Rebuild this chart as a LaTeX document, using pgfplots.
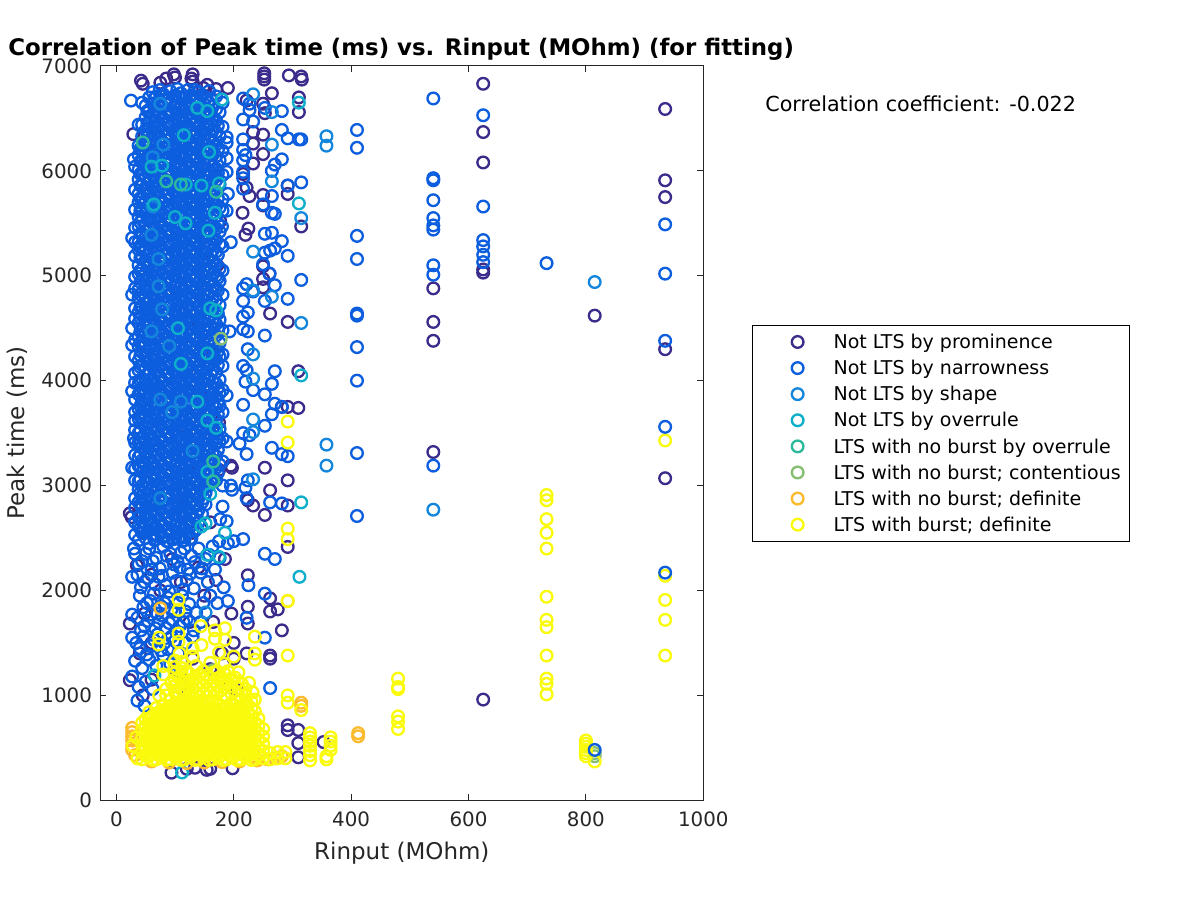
\documentclass[border=0pt]{standalone}
\usepackage{fontspec}
\setmainfont{DejaVu Sans}
\usepackage{pgfplots}
\pgfplotsset{compat=1.18}
\definecolor{c1}{HTML}{3B2C8C}
\definecolor{c2}{HTML}{0C5EDE}
\definecolor{c3}{HTML}{1487DC}
\definecolor{c4}{HTML}{0DAFCB}
\definecolor{c5}{HTML}{2DB99B}
\definecolor{c6}{HTML}{86BE72}
\definecolor{c7}{HTML}{FCBA2E}
\definecolor{c8}{HTML}{F9FA0C}
\pgfplotsset{ring/.style={only marks,mark=o,mark size=3.5pt,line width=1.4pt,color=#1}}
\newcommand{\lab}[1]{\makebox[177.6pt][l]{#1}}
\begin{document}
\begin{tikzpicture}
\path[use as bounding box] (0pt,0pt) rectangle (720pt,540pt);
\begin{axis}[
  at={(60.18pt,59.82pt)},anchor=south west,
  scale only axis,width=361.8pt,height=440.6pt,
  xmin=-27.3,xmax=1000,ymin=0,ymax=7000,
  xtick={0,200,400,600,800,1000},
  ytick={0,1000,2000,3000,4000,5000,6000,7000},
  tick align=inside,major tick length=3.6pt,
  axis line style={color=black!85,line width=0.6pt},
  tick style={color=black!85,line width=0.6pt},
  /pgf/number format/assume math mode=true,
  /pgf/number format/1000 sep={},
  scaled ticks=false,
  tick label style={font=\fontsize{11.9}{13}\selectfont,color=black!85},
  x tick label style={yshift=-3.5pt},
  y tick label style={xshift=-1.5pt},
  title={Correlation of Peak time (ms) vs. Rinput (MOhm) (for fitting)},
  every axis title/.style={at={(axis description cs:-0.153,1.014)},anchor=base west,inner sep=0pt,font=\fontsize{13.7}{15}\bfseries},
  xlabel={Rinput (MOhm)},
  every axis x label/.style={at={(axis description cs:0.5,-0.08)},anchor=base,font=\fontsize{13.8}{15}\selectfont,color=black!85},
  ylabel={Peak time (ms)},
  every axis y label/.style={at={(axis description cs:-0.1255,0.5)},anchor=base,rotate=90,font=\fontsize{13.8}{15}\selectfont,color=black!85},
  legend cell align=left,
  legend image code/.code={\path[draw=none] (0pt,0pt) -- (48.6pt,0pt);\draw[#1] plot coordinates {(27pt,0pt)};},
  legend style={at={(1.081,0.6475)},anchor=north west,draw=black,line width=0.6pt,inner xsep=0pt,inner ysep=5.5pt,row sep=6.66pt,font=\fontsize{11.4}{12}\selectfont,nodes={inner sep=0pt,text height=8.5pt,text depth=0.5pt}},
]
\addplot[ring=c1] table {
45 6830
42 6860
75 6840
85 6880
98 6920
100 6890
130 6920
128 6880
130 6850
148 6790
170 6780
190 6790
155 6820
252 6930
252 6900
252 6870
294 6910
315 6900
316 6870
265 6740
311 6700
311 6560
250 6640
253 6550
222 6670
233 6370
250 6345
233 6260
250 6160
233 6070
216 5970
292 5860
292 5780
250 5770
222 5840
227 5760
250 5670
215 5600
315 5470
225 5450
220 5390
177 5520
250 5090
261 5020
250 4970
250 4890
29 6350
262 4640
292 4560
310 4090
292 3750
310 3740
282 3750
292 3050
253 3170
195 3190
197 3170
262 2955
224 2860
233 2810
292 2810
253 2720
23 2735
26 2700
292 2415
224 2145
262 1925
262 1800
275 1820
224 1845
224 1685
196 1780
282 1620
222 1400
262 1350
262 1380
23 1685
23 1145
40 1400
35 2240
292 715
292 670
310 670
310 545
310 410
353 555
200 1350
200 1500
625 6830
625 6370
625 6080
625 5060
625 5030
625 960
935 6590
935 5910
935 5750
935 4300
935 3070
815 4620
540 4880
540 4560
540 4380
540 3320
94 263
134 310
154 290
198 305
160 300
120 300
95 2300
60 2150
110 2080
140 2220
170 2100
185 2300
75 2000
150 1950
48 1780
125 1700
165 1700
180 1400
60 1500
100 1250
130 1350
160 1250
60 1150
45 1000
110 1080
175 1150
205 1050
45 2550
80 2620
130 2550
160 2650
105 2800
150 2980
175 3150
125 3120
155 3350
120 3480
175 3600
90 3780
145 3840
120 4100
165 4250
75 4320
140 4560
100 5010
150 5220
130 5700
170 5950
90 6120
150 6350
120 6600
172 5100
};
\addlegendentry{\lab{Not LTS by prominence}}
\addplot[ring=c2] table {
25 6670
30 6110
27 5360
27 4820
27 4500
27 4340
27 3900
32 3700
30 3450
27 3170
30 2400
27 2130
27 1770
27 1550
32 2530
32 2650
32 2790
32 2880
32 3050
32 3160
32 3290
32 3410
32 3530
32 3620
32 3820
32 3980
32 4070
32 4230
32 4390
32 4590
32 4690
32 4880
32 4990
32 5190
32 5320
32 5460
32 5630
32 5820
32 6040
38 2480
38 2610
38 2700
38 2840
38 2960
38 3040
38 3190
38 3270
38 3410
38 3500
38 3640
38 3730
38 3870
38 3970
38 4100
38 4190
38 4330
38 4420
38 4550
38 4650
38 4790
38 4870
38 5020
38 5100
38 5250
38 5320
38 5470
38 5560
38 5700
38 5780
38 5920
38 6010
38 6150
38 6240
38 6440
44 2550
44 2660
44 2790
44 2900
44 3000
44 3130
44 3240
44 3360
44 3460
44 3590
44 3690
44 3810
44 3930
44 4020
44 4150
44 4270
44 4370
44 4490
44 4620
44 4710
44 4840
44 4960
44 5060
44 5180
44 5290
44 5400
44 5530
44 5630
44 5750
44 5860
44 5980
44 6090
44 6200
44 6330
44 6440
44 6650
50 2500
50 2630
50 2730
50 2860
50 2970
50 3080
50 3190
50 3320
50 3420
50 3550
50 3650
50 3780
50 3880
50 4000
50 4110
50 4230
50 4350
50 4450
50 4580
50 4680
50 4800
50 4910
50 5020
50 5140
50 5250
50 5370
50 5480
50 5600
50 5710
50 5820
50 5940
50 6050
50 6170
50 6280
50 6390
50 6510
50 6620
56 2450
56 2580
56 2690
56 2810
56 2920
56 3030
56 3150
56 3260
56 3390
56 3490
56 3610
56 3720
56 3840
56 3950
56 4070
56 4180
56 4300
56 4410
56 4530
56 4640
56 4750
56 4870
56 4980
56 5100
56 5210
56 5320
56 5440
56 5550
56 5670
56 5780
56 5900
56 6010
56 6120
56 6240
56 6350
56 6470
56 6580
56 6700
62 2530
62 2640
62 2760
62 2870
62 2990
62 3110
62 3210
62 3340
62 3440
62 3560
62 3680
62 3790
62 3900
62 4010
62 4130
62 4240
62 4360
62 4470
62 4590
62 4700
62 4810
62 4930
62 5040
62 5160
62 5270
62 5380
62 5500
62 5610
62 5730
62 5840
62 5960
62 6070
62 6180
62 6300
62 6410
62 6530
62 6640
62 6750
68 2490
68 2600
68 2720
68 2830
68 2950
68 3060
68 3170
68 3290
68 3400
68 3520
68 3630
68 3740
68 3860
68 3970
68 4090
68 4200
68 4310
68 4430
68 4540
68 4660
68 4770
68 4880
68 5000
68 5110
68 5230
68 5340
68 5450
68 5570
68 5680
68 5800
68 5910
68 6020
68 6140
68 6250
68 6370
68 6480
68 6590
68 6710
74 2560
74 2670
74 2790
74 2900
74 3020
74 3130
74 3250
74 3360
74 3470
74 3590
74 3700
74 3820
74 3930
74 4040
74 4160
74 4270
74 4390
74 4500
74 4610
74 4730
74 4840
74 4960
74 5070
74 5180
74 5300
74 5410
74 5530
74 5640
74 5750
74 5870
74 5980
74 6100
74 6210
74 6320
74 6440
74 6550
74 6670
74 6770
80 2510
80 2620
80 2740
80 2850
80 2970
80 3080
80 3190
80 3310
80 3420
80 3540
80 3650
80 3760
80 3880
80 3990
80 4110
80 4220
80 4330
80 4450
80 4560
80 4680
80 4790
80 4900
80 5020
80 5130
80 5250
80 5360
80 5470
80 5590
80 5700
80 5820
80 5930
80 6040
80 6160
80 6270
80 6390
80 6500
80 6610
80 6730
86 2470
86 2580
86 2700
86 2810
86 2930
86 3040
86 3150
86 3270
86 3380
86 3500
86 3610
86 3720
86 3840
86 3950
86 4070
86 4180
86 4290
86 4410
86 4520
86 4640
86 4750
86 4860
86 4980
86 5090
86 5210
86 5320
86 5430
86 5550
86 5660
86 5780
86 5890
86 6000
86 6120
86 6230
86 6350
86 6460
86 6570
86 6690
92 2540
92 2650
92 2770
92 2880
92 3000
92 3110
92 3220
92 3340
92 3450
92 3570
92 3680
92 3790
92 3910
92 4020
92 4140
92 4250
92 4360
92 4480
92 4590
92 4710
92 4820
92 4930
92 5050
92 5160
92 5280
92 5390
92 5500
92 5620
92 5730
92 5850
92 5960
92 6070
92 6190
92 6300
92 6420
92 6530
92 6640
92 6760
98 2490
98 2610
98 2720
98 2830
98 2950
98 3060
98 3180
98 3290
98 3400
98 3520
98 3630
98 3750
98 3860
98 3970
98 4090
98 4200
98 4320
98 4430
98 4540
98 4660
98 4770
98 4890
98 5000
98 5110
98 5230
98 5340
98 5460
98 5570
98 5680
98 5800
98 5910
98 6030
98 6140
98 6250
98 6370
98 6480
98 6600
98 6710
104 2560
104 2670
104 2790
104 2900
104 3020
104 3130
104 3240
104 3360
104 3470
104 3590
104 3700
104 3810
104 3930
104 4040
104 4160
104 4270
104 4380
104 4500
104 4610
104 4730
104 4840
104 4950
104 5070
104 5180
104 5300
104 5410
104 5520
104 5640
104 5750
104 5870
104 5980
104 6090
104 6210
104 6320
104 6440
104 6550
104 6660
104 6780
110 2520
110 2630
110 2750
110 2860
110 2980
110 3090
110 3200
110 3320
110 3430
110 3550
110 3660
110 3770
110 3890
110 4000
110 4120
110 4230
110 4340
110 4460
110 4570
110 4690
110 4800
110 4910
110 5030
110 5140
110 5260
110 5370
110 5480
110 5600
110 5710
110 5830
110 5940
110 6050
110 6170
110 6280
110 6400
110 6510
110 6620
110 6740
116 2480
116 2590
116 2710
116 2820
116 2940
116 3050
116 3160
116 3280
116 3390
116 3510
116 3620
116 3730
116 3850
116 3960
116 4080
116 4190
116 4300
116 4420
116 4530
116 4650
116 4760
116 4870
116 4990
116 5100
116 5220
116 5330
116 5440
116 5560
116 5670
116 5790
116 5900
116 6010
116 6130
116 6240
116 6360
116 6470
116 6580
116 6700
122 2550
122 2660
122 2780
122 2890
122 3010
122 3120
122 3230
122 3350
122 3460
122 3580
122 3690
122 3800
122 3920
122 4030
122 4150
122 4260
122 4370
122 4490
122 4600
122 4720
122 4830
122 4940
122 5060
122 5170
122 5290
122 5400
122 5510
122 5630
122 5740
122 5860
122 5970
122 6080
122 6200
122 6310
122 6430
122 6540
122 6650
122 6770
128 2500
128 2620
128 2730
128 2840
128 2960
128 3070
128 3190
128 3300
128 3410
128 3530
128 3640
128 3760
128 3870
128 3980
128 4100
128 4210
128 4330
128 4440
128 4550
128 4670
128 4780
128 4900
128 5010
128 5120
128 5240
128 5350
128 5470
128 5580
128 5690
128 5810
128 5920
128 6040
128 6150
128 6260
128 6380
128 6490
128 6610
128 6720
134 2570
134 2680
134 2800
134 2910
134 3030
134 3140
134 3250
134 3370
134 3480
134 3600
134 3710
134 3820
134 3940
134 4050
134 4170
134 4280
134 4390
134 4510
134 4620
134 4740
134 4850
134 4960
134 5080
134 5190
134 5310
134 5420
134 5530
134 5650
134 5760
134 5880
134 5990
134 6100
134 6220
134 6330
134 6450
134 6560
134 6670
134 6770
140 2650
140 2770
140 2880
140 3000
140 3110
140 3220
140 3340
140 3450
140 3570
140 3680
140 3790
140 3910
140 4020
140 4140
140 4250
140 4360
140 4480
140 4590
140 4710
140 4820
140 4930
140 5050
140 5160
140 5280
140 5390
140 5500
140 5620
140 5730
140 5850
140 5960
140 6070
140 6190
140 6300
140 6420
140 6530
140 6640
140 6750
146 2730
146 2840
146 2950
146 3070
146 3180
146 3300
146 3410
146 3520
146 3640
146 3750
146 3870
146 3980
146 4090
146 4210
146 4320
146 4440
146 4550
146 4660
146 4780
146 4890
146 5010
146 5120
146 5230
146 5350
146 5460
146 5580
146 5690
146 5800
146 5920
146 6030
146 6150
146 6260
146 6370
146 6490
146 6600
146 6720
152 2820
152 2930
152 3050
152 3160
152 3280
152 3390
152 3500
152 3620
152 3730
152 3850
152 3960
152 4070
152 4190
152 4300
152 4420
152 4530
152 4640
152 4760
152 4870
152 4990
152 5100
152 5210
152 5330
152 5440
152 5560
152 5670
152 5780
152 5900
152 6010
152 6130
152 6240
152 6350
152 6470
152 6580
152 6700
158 3000
158 3110
158 3230
158 3340
158 3450
158 3570
158 3680
158 3800
158 3910
158 4020
158 4140
158 4250
158 4370
158 4480
158 4590
158 4710
158 4820
158 4940
158 5050
158 5160
158 5280
158 5390
158 5510
158 5620
158 5730
158 5850
158 5960
158 6080
158 6190
158 6300
158 6420
158 6530
158 6650
158 6760
164 3070
164 3190
164 3300
164 3420
164 3530
164 3640
164 3760
164 3870
164 3990
164 4100
164 4210
164 4330
164 4440
164 4560
164 4670
164 4780
164 4900
164 5010
164 5130
164 5240
164 5350
164 5470
164 5580
164 5700
164 5810
164 5920
164 6040
164 6150
164 6270
164 6380
164 6490
164 6610
170 3050
170 3170
170 3280
170 3400
170 3510
170 3630
170 3740
170 3850
170 3970
170 4080
170 4200
170 4310
170 4430
170 4540
170 4650
170 4770
170 4880
170 5000
170 5110
170 5230
170 5340
170 5450
170 5570
170 5680
170 5800
170 5910
170 6020
170 6140
170 6250
170 6370
170 6480
170 6590
170 6710
176 3200
176 3420
176 3540
176 3760
176 3880
176 4010
176 4230
176 4360
176 4580
176 4720
176 4950
176 5070
176 5300
176 5420
176 5650
176 5870
176 6100
176 6330
176 6560
181 2800
181 3000
181 3230
181 3450
181 3700
181 3910
181 4140
181 4250
181 4480
181 4820
181 5050
181 5280
181 5620
181 5730
181 5960
181 6190
181 6420
181 6650
41 2590
41 2710
41 2820
41 2930
41 3060
41 3170
41 3300
41 3400
41 3520
41 3660
41 3760
41 3890
41 4000
41 4130
41 4240
41 4360
41 4470
41 4600
41 4700
41 4820
41 4940
41 5050
41 5170
41 5270
41 5400
41 5510
41 5620
41 5740
41 5860
41 5970
41 6090
41 6210
53 2570
53 2680
53 2790
53 2910
53 3030
53 3140
53 3250
53 3370
53 3480
53 3600
53 3710
53 3830
53 3940
53 4060
53 4170
53 4280
53 4400
53 4510
53 4630
53 4740
53 4850
53 4970
53 5080
53 5200
53 5310
53 5420
53 5540
53 5650
53 5770
53 5880
53 5990
53 6110
53 6220
53 6340
53 6450
53 6570
65 2480
65 2590
65 2700
65 2820
65 2930
65 3050
65 3160
65 3270
65 3390
65 3500
65 3620
65 3730
65 3840
65 3960
65 4070
65 4190
65 4300
65 4410
65 4530
65 4640
65 4760
65 4870
65 4980
65 5100
65 5210
65 5330
65 5440
65 5550
65 5670
65 5780
65 5900
65 6010
65 6120
65 6240
65 6350
65 6470
65 6580
65 6690
77 2500
77 2610
77 2720
77 2840
77 2950
77 3070
77 3180
77 3290
77 3410
77 3520
77 3640
77 3750
77 3860
77 3980
77 4090
77 4210
77 4320
77 4430
77 4550
77 4660
77 4780
77 4890
77 5000
77 5120
77 5230
77 5350
77 5460
77 5570
77 5690
77 5800
77 5920
77 6030
77 6140
77 6260
77 6370
77 6490
77 6600
77 6710
89 2470
89 2590
89 2700
89 2810
89 2930
89 3040
89 3160
89 3270
89 3380
89 3500
89 3610
89 3730
89 3840
89 3950
89 4070
89 4180
89 4300
89 4410
89 4520
89 4640
89 4750
89 4870
89 4980
89 5090
89 5210
89 5320
89 5440
89 5550
89 5660
89 5780
89 5890
89 6010
89 6120
89 6230
89 6350
89 6460
89 6580
89 6690
101 2510
101 2620
101 2730
101 2850
101 2960
101 3080
101 3190
101 3300
101 3420
101 3530
101 3650
101 3760
101 3870
101 3990
101 4100
101 4220
101 4330
101 4440
101 4560
101 4670
101 4790
101 4900
101 5010
101 5130
101 5240
101 5360
101 5470
101 5580
101 5700
101 5810
101 5930
101 6040
101 6150
101 6270
101 6380
101 6500
101 6610
101 6720
113 2470
113 2580
113 2700
113 2810
113 2930
113 3040
113 3150
113 3270
113 3380
113 3500
113 3610
113 3720
113 3840
113 3950
113 4070
113 4180
113 4290
113 4410
113 4520
113 4640
113 4750
113 4860
113 4980
113 5090
113 5210
113 5320
113 5430
113 5550
113 5660
113 5780
113 5890
113 6000
113 6120
113 6230
113 6350
113 6460
113 6570
113 6690
125 2490
125 2610
125 2720
125 2830
125 2950
125 3060
125 3180
125 3290
125 3400
125 3520
125 3630
125 3750
125 3860
125 3970
125 4090
125 4200
125 4320
125 4430
125 4540
125 4660
125 4770
125 4890
125 5000
125 5110
125 5230
125 5340
125 5460
125 5570
125 5680
125 5800
125 5910
125 6030
125 6140
125 6250
125 6370
125 6480
125 6600
125 6710
137 2590
137 2720
137 2830
137 2950
137 3060
137 3180
137 3290
137 3410
137 3520
137 3630
137 3750
137 3860
137 3980
137 4090
137 4200
137 4320
137 4430
137 4550
137 4660
137 4770
137 4890
137 5000
137 5120
137 5230
137 5340
137 5460
137 5570
137 5690
137 5800
137 5910
137 6030
137 6140
137 6260
137 6370
137 6480
137 6600
137 6710
149 2880
149 2990
149 3110
149 3220
149 3340
149 3450
149 3560
149 3680
149 3790
149 3910
149 4020
149 4130
149 4250
149 4360
149 4480
149 4590
149 4700
149 4820
149 4930
149 5050
149 5160
149 5270
149 5390
149 5500
149 5620
149 5730
149 5840
149 5960
149 6070
149 6190
149 6300
149 6410
149 6530
149 6640
161 3030
161 3140
161 3260
161 3370
161 3490
161 3600
161 3710
161 3830
161 3940
161 4060
161 4170
161 4280
161 4400
161 4510
161 4630
161 4740
161 4850
161 4970
161 5080
161 5200
161 5310
161 5420
161 5540
161 5650
161 5770
161 5880
161 5990
161 6110
161 6220
161 6340
161 6450
161 6560
161 6680
173 3120
173 3340
173 3460
173 3680
173 3800
173 3930
173 4150
173 4280
173 4500
173 4640
173 4860
173 4980
173 5200
173 5500
173 5740
173 5980
173 6200
173 6430
216 6690
227 6640
227 6580
253 6600
282 6570
311 6300
216 6490
233 6470
282 6390
292 6310
315 6300
216 6300
188 6320
188 6270
216 6200
220 6150
216 6100
188 6120
188 5990
282 6110
270 6060
265 6000
216 5990
216 5930
315 5890
292 5860
216 5830
265 5760
250 5680
265 5600
270 5590
188 5620
190 5780
180 5470
195 5320
253 5400
265 5410
282 5330
270 5260
262 5240
253 5220
292 5190
250 5110
261 5020
270 4910
315 4960
216 4880
222 4920
253 4760
292 4780
216 4760
233 4850
216 4610
224 4650
216 4490
224 4470
253 4430
193 4470
224 4300
216 4140
222 4100
270 4090
220 3990
233 3910
265 3970
253 3870
216 3770
270 3780
265 3680
282 3750
188 3860
253 3570
216 3500
227 3480
210 3400
222 3300
188 3420
265 3360
282 3300
292 3280
195 3000
224 3050
220 2980
222 2880
197 2960
188 2660
177 2680
262 2840
282 2830
216 2490
200 2470
190 2450
175 2470
253 2350
270 2300
253 1970
222 1740
225 2050
183 2030
190 1900
262 1070
253 1550
32 2350
44 2280
56 2400
68 2310
80 2420
92 2350
104 2280
116 2400
128 2330
140 2400
152 2300
164 2420
176 2310
38 2250
50 2350
62 2280
74 2210
86 2330
98 2250
110 2360
122 2200
134 2270
146 2210
158 2340
36 2150
48 2080
60 2200
72 2130
84 2050
96 2170
108 2220
120 2100
132 2020
144 2170
156 2080
168 2200
42 2030
54 2120
66 2060
78 2140
90 1990
102 2090
114 2010
126 2160
40 1950
52 1880
64 1970
76 1850
88 1930
100 1800
112 1950
124 1870
136 1790
148 1880
160 1950
172 1880
46 1840
58 1900
70 1780
82 1880
94 1820
106 1880
118 1800
36 1740
48 1660
60 1770
72 1700
84 1640
96 1720
108 1660
120 1730
132 1620
144 1700
42 1620
54 1710
66 1640
78 1760
90 1690
102 1610
114 1700
34 1500
46 1560
58 1470
70 1580
82 1500
94 1560
106 1400
118 1500
130 1560
40 1450
52 1390
64 1530
76 1430
88 1440
100 1520
32 1330
44 1260
56 1340
68 1280
80 1380
92 1300
110 1220
38 1080
50 1130
62 1060
36 950
48 900
27 1180
};
\addlegendentry{\lab{Not LTS by narrowness}}
\addplot[ring=c3] table {
233 6730
265 6560
265 6250
265 5900
315 5550
233 5230
233 4860
265 4800
315 4550
233 4250
233 4020
233 3630
233 3510
233 3060
358 6330
358 6240
358 3390
358 3190
815 4940
540 2770
152 1790
75 6640
80 6250
62 6130
62 5660
60 5390
72 5160
72 4900
78 4680
60 4470
90 4330
75 3820
95 3700
110 3800
130 3330
75 2880
};
\addlegendentry{\lab{Not LTS by shape}}
\addplot[ring=c4] table {
311 6650
311 5690
315 4050
315 2840
312 2130
112 265
64 5680
115 6340
138 6600
155 6570
180 6680
60 6040
78 6050
145 5860
118 5870
158 6180
175 5880
168 5600
157 5430
100 5560
118 5500
160 4690
170 4670
105 4500
155 4260
110 4160
138 3800
155 3620
170 3550
155 3130
160 2920
152 2640
145 2610
185 2550
175 2320
155 2340
65 1190
};
\addlegendentry{\lab{Not LTS by overrule}}
\addplot[ring=c5] table {
45 6270
85 5900
110 5870
170 5800
165 3230
165 3040
};
\addlegendentry{\lab{LTS with no burst by overrule}}
\addplot[ring=c6] table {
815 450
815 420
178 4400
165 1240
};
\addlegendentry{\lab{LTS with no burst; contentious}}
\addplot[ring=c7] table {
75 1830
292 1900
315 930
315 900
412 640
412 610
27 690
27 650
27 610
27 570
27 520
27 480
32 430
60 370
90 360
120 355
150 360
180 365
210 370
240 380
258 390
270 400
282 420
235 420
};
\addlegendentry{\lab{LTS with no burst; definite}}
\addplot[ring=c8] table {
44 390
44 460
44 530
44 600
44 670
44 740
50 425
50 495
50 565
50 635
50 705
50 775
56 420
56 490
56 560
56 630
56 700
56 770
56 840
62 385
62 455
62 525
62 595
62 665
62 735
62 805
68 390
68 460
68 530
68 600
68 670
68 740
68 810
68 880
74 425
74 495
74 565
74 635
74 705
74 775
74 845
80 420
80 490
80 560
80 630
80 700
80 770
80 840
80 910
86 385
86 455
86 525
86 595
86 665
86 735
86 805
86 875
92 390
92 460
92 530
92 600
92 670
92 740
92 810
92 880
92 950
98 425
98 495
98 565
98 635
98 705
98 775
98 845
98 915
104 420
104 490
104 560
104 630
104 700
104 770
104 840
104 910
104 980
110 385
110 455
110 525
110 595
110 665
110 735
110 805
110 875
110 945
116 390
116 460
116 530
116 600
116 670
116 740
116 810
116 880
116 950
122 425
122 495
122 565
122 635
122 705
122 775
122 845
122 915
128 420
128 490
128 560
128 630
128 700
128 770
128 840
128 910
128 980
134 385
134 455
134 525
134 595
134 665
134 735
134 805
134 875
134 945
140 390
140 460
140 530
140 600
140 670
140 740
140 810
140 880
140 950
146 425
146 495
146 565
146 635
146 705
146 775
146 845
146 915
152 420
152 490
152 560
152 630
152 700
152 770
152 840
152 910
158 385
158 455
158 525
158 595
158 665
158 735
158 805
158 875
158 945
164 390
164 460
164 530
164 600
164 670
164 740
164 810
164 880
164 950
170 425
170 495
170 565
170 635
170 705
170 775
170 845
170 915
176 420
176 490
176 560
176 630
176 700
176 770
176 840
176 910
182 385
182 455
182 525
182 595
182 665
182 735
182 805
182 875
188 390
188 460
188 530
188 600
188 670
188 740
188 810
188 880
194 425
194 495
194 565
194 635
194 705
194 775
194 845
194 915
200 420
200 490
200 560
200 630
200 700
200 770
200 840
200 910
206 385
206 455
206 525
206 595
206 665
206 735
206 805
206 875
206 945
212 390
212 460
212 530
212 600
212 670
212 740
212 810
212 880
212 950
218 425
218 495
218 565
218 635
218 705
218 775
218 845
218 915
224 420
224 490
224 560
224 630
224 700
224 770
224 840
224 910
230 385
230 455
230 525
230 595
230 665
230 735
230 805
230 875
230 945
236 390
236 460
236 530
236 600
236 670
236 740
236 850
236 960
242 430
242 500
242 570
242 640
242 710
242 780
250 400
250 470
250 540
250 610
250 680
262 390
262 450
275 400
275 460
288 400
288 460
28 520
36 400
34 600
100 1030
100 1090
100 1150
100 1210
100 1270
100 1330
112 1050
112 1120
112 1190
112 1260
124 1000
124 1070
124 1140
124 1210
136 1030
136 1100
136 1170
148 1020
148 1090
148 1160
148 1230
160 1030
160 1100
160 1170
172 1020
172 1090
172 1160
172 1230
184 1000
184 1070
184 1140
184 1210
196 1020
196 1090
196 1160
208 1000
208 1070
208 1130
220 1000
220 1060
232 1030
85 1000
85 1060
73 1000
106 1030
118 1100
130 1040
142 1120
154 1050
166 1130
178 1050
190 1120
202 1040
214 1110
118 1230
142 1200
166 1220
190 1230
106 1170
130 1150
154 1190
178 1180
202 1170
226 1120
94 1120
112 1320
136 1280
160 1310
184 1300
208 1220
73 1550
72 1485
106 1590
106 1510
106 1910
106 1815
144 1660
168 1620
185 1640
168 1540
185 1530
236 1560
236 1400
236 1340
292 1380
292 1900
145 1480
130 1450
175 1410
108 1400
130 1370
200 1370
80 1280
80 1200
292 3610
292 3410
292 2590
292 2490
292 1000
292 930
315 860
330 640
330 600
330 560
330 520
330 470
330 430
330 380
358 420
358 390
365 600
365 560
365 520
365 480
480 1160
480 1080
480 1060
480 800
480 750
480 680
733 2910
733 2860
733 2680
733 2550
733 2400
733 1940
733 1720
733 1650
733 1380
733 1160
733 1110
733 1010
800 570
800 540
800 510
800 480
800 450
800 420
815 370
935 3430
935 2140
935 1910
935 1720
935 1380
};
\addlegendentry{\lab{LTS with burst; definite}}
\addplot[ring=c2,forget plot] table {
935 5490
935 5020
935 4380
935 3560
935 2170
733 5120
625 6530
625 5660
625 5340
625 5280
625 5200
625 5130
540 6690
540 5930
540 5910
540 5720
540 5550
540 5480
540 5440
540 5100
540 5010
540 3190
410 6390
410 6220
410 5380
410 5160
410 4640
410 4620
410 4320
410 4000
410 3310
410 2710
815 480
};
\end{axis}
\node[anchor=base west,inner sep=0pt,font=\fontsize{12.4}{13}\selectfont] at (459pt,473pt) {Correlation coefficient: -0.022};
\end{tikzpicture}
\end{document}
